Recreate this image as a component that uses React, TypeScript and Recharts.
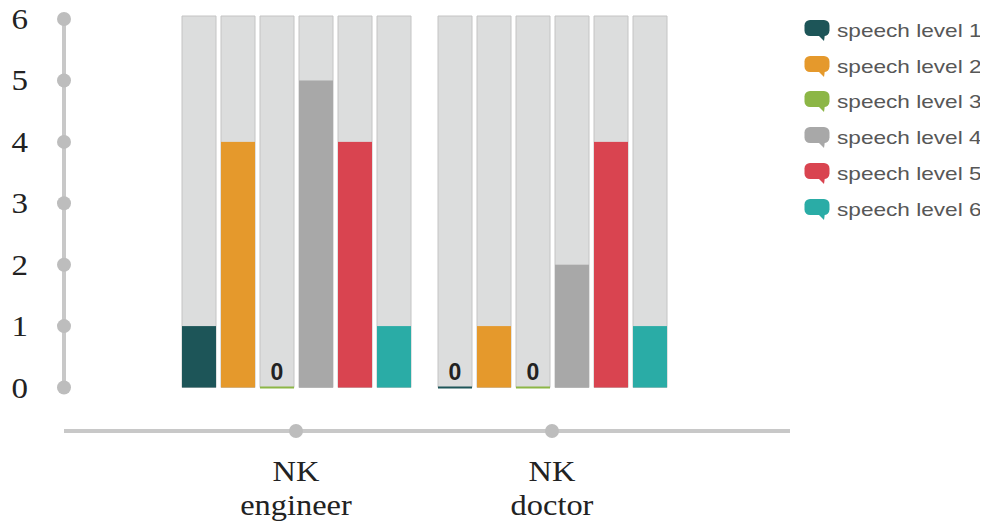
import { BarChart, Bar, XAxis, YAxis, Legend, LabelList } from "recharts";

const categories = ["NK engineer", "NK doctor"];
const level1 = [1, 0];
const level2 = [4, 1];
const level3 = [0, 0];
const level4 = [5, 2];
const level5 = [4, 4];
const level6 = [1, 1];
const yTicks = [0, 1, 2, 3, 4, 5, 6];

const series = [
  { key: "l1", name: "speech level 1", color: "#1d5558", values: level1 },
  { key: "l2", name: "speech level 2", color: "#e5992c", values: level2 },
  { key: "l3", name: "speech level 3", color: "#8cb646", values: level3 },
  { key: "l4", name: "speech level 4", color: "#a8a8a8", values: level4 },
  { key: "l5", name: "speech level 5", color: "#d94450", values: level5 },
  { key: "l6", name: "speech level 6", color: "#2aaca6", values: level6 },
];

const data = categories.map((name, i) => {
  const row: Record<string, string | number> = { name };
  series.forEach((s) => {
    row[s.key] = s.values[i];
  });
  return row;
});

const AXIS = "#c8c8c8";
const DOT = "#bdbdbd";
const SERIF = "'Liberation Serif', 'Times New Roman', serif";
const SANS = "'Liberation Sans', Arial, sans-serif";

// zero-height bars still get a thin coloured strip on the baseline
const BarShape = (props: any) => {
  const { x, y, width, height, fill } = props;
  if (!height || height < 1) {
    return <rect x={x} y={y - 1} width={width} height={2} fill={fill} />;
  }
  return <rect x={x} y={y} width={width} height={height} fill={fill} />;
};

const ZeroLabel = (p: any) => {
  const vb = p.viewBox ?? p;
  if (Number(p.value) !== 0) return null;
  return (
    <text
      x={vb.x + vb.width / 2}
      y={vb.y + (vb.height || 0) - 7.5}
      textAnchor="middle"
      fontFamily={SANS}
      fontWeight="bold"
      fontSize={23}
      fill="#222"
    >
      0
    </text>
  );
};

const YTick = (p: any) => (
  <g>
    <circle cx={p.x} cy={p.y} r={7} fill={DOT} />
    <text
      transform={`translate(${p.x - 36},${p.y + 10}) scale(1.1,1)`}
      textAnchor="end"
      fontFamily={SERIF}
      fontSize={30}
      fill="#222"
    >
      {p.payload.value}
    </text>
  </g>
);

const XTick = (p: any) => {
  const [first, second] = String(p.payload.value).split(" ");
  return (
    <g>
      <circle cx={p.x} cy={p.y + 43.5} r={7} fill={DOT} />
      <text
        transform={`translate(${p.x},${p.y + 93}) scale(1.08,1)`}
        textAnchor="middle"
        fontFamily={SERIF}
        fontSize={30}
        fill="#222"
      >
        {first}
      </text>
      <text
        transform={`translate(${p.x},${p.y + 127.5}) scale(1.08,1)`}
        textAnchor="middle"
        fontFamily={SERIF}
        fontSize={30}
        fill="#222"
      >
        {second}
      </text>
    </g>
  );
};

const Bubble = ({ color }: { color: string }) => (
  <svg width={26} height={24} style={{ display: "block", marginRight: 7 }}>
    <rect x={0.5} y={2} width={25} height={16} rx={5.5} fill={color} />
    <path d="M13 16 L21 16 L20 23 Z" fill={color} />
  </svg>
);

const LegendList = () => (
  <div>
    {series.map((s) => (
      <div key={s.key} style={{ display: "flex", alignItems: "center", height: 35.8 }}>
        <Bubble color={s.color} />
        <span
          style={{
            fontFamily: SANS,
            fontSize: 19,
            color: "#575757",
            display: "inline-block",
            transform: "scaleX(1.19)",
            transformOrigin: "left center",
            position: "relative",
            top: 1,
            whiteSpace: "nowrap",
          }}
        >
          {s.name}
        </span>
      </div>
    ))}
  </div>
);

export default function App() {
  return (
    <div>
      <style>{`.recharts-surface { overflow: visible; } .recharts-legend-wrapper { overflow: visible !important; }`}</style>
      <BarChart
        width={980}
        height={516}
        data={data}
        margin={{ top: 8, right: 6, left: 0, bottom: 6.5 }}
        barSize={34}
        barGap={5}
      >
        <YAxis
          domain={[0, 6.05]}
          ticks={yTicks}
          width={56}
          tickLine={false}
          tickSize={0}
          tickMargin={0}
          axisLine={{ stroke: AXIS, strokeWidth: 4 }}
          tick={<YTick />}
          interval={0}
        />
        <XAxis
          dataKey="name"
          height={130}
          padding={{ left: 104, right: 110 }}
          tickLine={false}
          tickSize={0}
          tickMargin={0}
          axisLine={{ stroke: AXIS, strokeWidth: 4, transform: "translate(0 43.5)" }}
          tick={<XTick />}
          interval={0}
        />
        <Legend
          layout="vertical"
          align="right"
          verticalAlign="top"
          width={192}
          wrapperStyle={{ top: 4, left: 796, right: undefined }}
          content={<LegendList />}
        />
        {series.map((s) => (
          <Bar
            key={s.key}
            dataKey={s.key}
            name={s.name}
            fill={s.color}
            isAnimationActive={false}
            background={{ fill: "#dcdddd", stroke: "#c4c4c4", strokeWidth: 1 }}
            shape={<BarShape />}
          >
            <LabelList dataKey={s.key} content={<ZeroLabel />} />
          </Bar>
        ))}
      </BarChart>
    </div>
  );
}
